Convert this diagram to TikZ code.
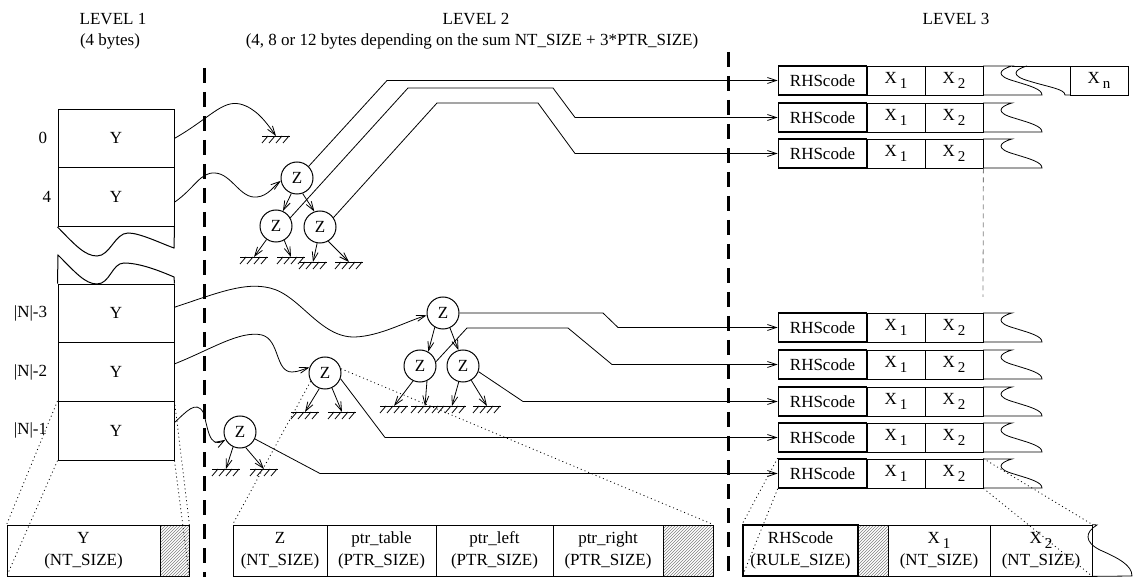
\documentclass[tikz,border=0pt]{standalone}
\usepackage{fontspec}
\setmainfont{Liberation Serif}
\usetikzlibrary{arrows.meta,patterns,positioning}

\newcommand{\xsub}[1]{X\hspace{3pt}\raisebox{-5pt}{\fontsize{15}{15}\selectfont #1}}

\begin{document}
\begin{tikzpicture}[x=1pt, y=-1pt, line width=0.8pt,
  font=\fontsize{17}{22}\selectfont,
  cell/.style={draw, line width=1pt, minimum width=116pt, minimum height=58.7pt, inner sep=0pt},
  zbox/.style={draw, circle, line width=1pt, minimum size=32pt, inner sep=0pt},
  rhs/.style={draw, line width=1.7pt, minimum width=88pt, minimum height=29pt, inner sep=0pt},
  xcell/.style={draw, line width=0.8pt, minimum width=58pt, minimum height=29pt, inner sep=0pt},
  field/.style={draw, line width=0.8pt, minimum height=51pt, inner sep=2pt, align=center},
  pad/.style={draw, line width=0.8pt, pattern=north east lines, pattern color=gray, minimum height=51pt, inner sep=0pt},
  ptr/.style={-{Straight Barb[length=9pt, width=6pt]}, line width=0.8pt},
  zoomline/.style={line width=0.8pt, dash pattern=on 1pt off 3pt},
  divider/.style={line width=3pt, dash pattern=on 15pt off 9pt},
  ground/.pic={
    \draw (-14,0) -- (14,0);
    \foreach \h in {-8,-1,6,13} \draw (\h,0) -- ++(-6,7);
  }]
  \useasboundingbox (0,0) rectangle (1136,577);

  \node (lev1) at (113,19) {LEVEL 1};
  \node (lev1b) at (110,41) {(4 bytes)};
  \node (lev2) at (476,19) {LEVEL 2};
  \node (lev2b) at (472,41) {(4, 8 or 12 bytes depending on the sum NT\_SIZE + 3*PTR\_SIZE)};
  \node (lev3) at (956,19) {LEVEL 3};

  \draw[divider] (204,68) -- (204,577);
  \draw[divider] (728,52) -- (728,577);

  \node[cell] (Y0) at (116,138.4) {Y};
  \node[cell] (Y4) at (116,197.1) {Y};
  \draw[line width=1pt] (Y4.south east) -- (174,248) .. controls (160,243) and (140,233) .. (128,233)
    .. controls (115,233) and (110,256) .. (97,256) .. controls (85,256) and (75,245) .. (Y4.south west);
  \node[cell] (N3) at (116,313.4) {Y};
  \node[cell] (N2) at (116,372.1) {Y};
  \node[cell] (N1) at (116,430.8) {Y};
  \draw[line width=1pt] (N3.north west) -- (58,255) .. controls (75,272) and (85,284) .. (97,284)
    .. controls (110,284) and (112,263) .. (124,263) .. controls (140,263) and (160,271) .. (174,277) -- (N3.north east);
  \node[left=10pt of Y0, inner sep=0pt] (l0) {0};
  \node[left=6pt of Y4, inner sep=0pt] (l4) {4};
  \node[left=10pt of N3, inner sep=0pt] (l3) {|N|-3};
  \node[left=10pt of N2, inner sep=0pt] (l2) {|N|-2};
  \node[left=10pt of N1, inner sep=0pt] (l1) {|N|-1};

  \node[zbox] (zt) at (297,178) {Z};
  \node[zbox] (ztl) at (276,226) {Z};
  \node[zbox] (ztr) at (320,227) {Z};
  \node[zbox] (zl) at (443,313) {Z};
  \node[zbox] (zll) at (420,366) {Z};
  \node[zbox] (zlr) at (463,366) {Z};
  \node[zbox] (zm) at (325,373) {Z};
  \node[zbox] (zb) at (240,432) {Z};

  \coordinate (g0) at (276,136);
  \coordinate (gtl1) at (254,257);
  \coordinate (gtl2) at (291,257);
  \coordinate (gtr1) at (313,262);
  \coordinate (gtr2) at (349,262);
  \coordinate (gll1) at (394,406);
  \coordinate (gll2) at (425,406);
  \coordinate (glr1) at (452,406);
  \coordinate (glr2) at (487,406);
  \coordinate (gm1) at (305,412);
  \coordinate (gm2) at (342,412);
  \coordinate (gb1) at (226,469);
  \coordinate (gb2) at (264,469);
  \foreach \g in {g0,gtl1,gtl2,gtr1,gtr2,gll1,gll2,glr1,glr2,gm1,gm2,gb1,gb2}
    \pic at (\g) {ground};

  \draw[ptr] (zt.250) -- (ztl.65);
  \draw[ptr] (zt.290) -- (ztr.110);
  \draw[ptr] (zl.240) -- (zll.60);
  \draw[ptr] (zl.295) -- (zlr.106);
  \draw[ptr] (ztl.235) -- (gtl1);
  \draw[ptr] (ztl.300) -- (gtl2);
  \draw[ptr] (ztr.260) -- (gtr1);
  \draw[ptr] (ztr.300) -- (gtr2);
  \draw[ptr] (zll.245) -- (gll1);
  \draw[ptr] (zll.295) -- (gll2);
  \draw[ptr] (zlr.255) -- (glr1);
  \draw[ptr] (zlr.300) -- (glr2);
  \draw[ptr] (zm.250) -- (gm1);
  \draw[ptr] (zm.295) -- (gm2);
  \draw[ptr] (zb.245) -- (gb1);
  \draw[ptr] (zb.290) -- (gb2);

  \draw[ptr] (Y0.east) .. controls (210,118) and (222,100) .. (240,104) .. controls (256,108) and (266,122) .. (g0);
  \draw[ptr] (Y4.-5) .. controls (195,188) and (200,172) .. (215,173) .. controls (232,174) and (240,199) .. (257,197)
    .. controls (268,196) and (274,186) .. (zt.190);
  \draw[ptr] (N3.6) .. controls (220,292) and (245,282) .. (270,288) .. controls (300,295) and (320,338) .. (355,337)
    .. controls (380,336) and (405,322) .. (zl.188);
  \draw[ptr] (N2.8) .. controls (210,350) and (240,330) .. (262,335) .. controls (280,340) and (275,372) .. (292,372)
    .. controls (298,372) and (304,369) .. (zm.160);
  \draw[ptr] (N1.8) .. controls (186,412) and (196,400) .. (203,412) .. controls (208,425) and (208,450) .. (zb.208);

  \foreach \i/\t in {1/66, 2/103, 3/139, 4/313, 5/350, 6/387, 7/423, 8/459} {
    \node[rhs] (r\i) at (822.5,\t+14.5) {RHScode};
    \node[xcell] (a\i) at (896,\t+14.5) {\xsub{1}};
    \node[xcell] (b\i) at (954,\t+14.5) {\xsub{2}};
    \draw (983,\t) -- (1012,\t) .. controls (998,\t+4) and (996,\t+10) .. (1014,\t+15)
      .. controls (1030,\t+20) and (1042,\t+23) .. (1042,\t+29) -- (983,\t+29);
  }
  \draw (1012,66) -- (1070,66);
  \draw (1027,66) .. controls (1013,70) and (1011,76) .. (1029,81) .. controls (1048,87) and (1065,89) .. (1065,95) -- (1070,95);
  \node[xcell] (xn) at (1099,80.5) {\xsub{n}};
  \draw[gray, line width=0.8pt, dash pattern=on 5pt off 4pt] (b3.south east) -- (983,297);

  \draw[ptr] (zt.45) -- (387,80.5) -- (r1.west);
  \draw[ptr] (ztl.30) -- (408,88) -- (553,88) -- (575,117.5) -- (r2.west);
  \draw[ptr] (ztr.35) -- (437,103) -- (538,103) -- (575,153.5) -- (r3.west);
  \draw[ptr] (zl.0) -- (603,313) -- (618,327.5) -- (r4.west);
  \draw[ptr] (zll.15) -- (467,328) -- (568,328) -- (612,364.5) -- (r5.west);
  \draw[ptr] (zlr.-20) -- (523,401.5) -- (r6.west);
  \draw[ptr] (zm.-20) -- (385,437.5) -- (r7.west);
  \draw[ptr] (zb.-25) -- (320,473.5) -- (r8.west);

  \node[field, minimum width=153pt] (bY) at (83.5,550.5) {Y\\(NT\_SIZE)};
  \node[pad, minimum width=29pt] (bYp) at (174.5,550.5) {};
  \node[field, minimum width=94pt] (bZ) at (280,550.5) {Z\\(NT\_SIZE)};
  \node[field, minimum width=109pt] (bT) at (381.5,550.5) {ptr\_table\\(PTR\_SIZE)};
  \node[field, minimum width=117pt] (bL) at (494.5,550.5) {ptr\_left\\(PTR\_SIZE)};
  \node[field, minimum width=110pt] (bRt) at (608,550.5) {ptr\_right\\(PTR\_SIZE)};
  \node[pad, minimum width=50pt] (bZp) at (688,550.5) {};
  \node[field, line width=1.7pt, minimum width=115pt] (bR) at (800.5,550.5) {RHScode\\(RULE\_SIZE)};
  \node[pad, minimum width=30pt] (bRp) at (873,550.5) {};
  \node[field, minimum width=102pt] (bX1) at (939,550.5) {\xsub{1}\\(NT\_SIZE)};
  \node[field, minimum width=102pt] (bX2) at (1041,550.5) {\xsub{2}\\(NT\_SIZE)};
  \draw (bX2.north east) -- (1097,525) .. controls (1085,532) and (1084,542) .. (1100,550)
    .. controls (1118,558) and (1132,565) .. (1132,576) -- (bX2.south east);

  \draw[zoomline] (N1.north west) -- (bY.north west);
  \draw[zoomline] (N1.south west) -- (bY.south west);
  \draw[zoomline] (N1.north east) -- (bYp.north east);
  \draw[zoomline] (N1.south east) -- (bYp.south east);
  \draw[zoomline] (zm.210) -- (bZ.north west);
  \draw[zoomline] (zm.15) -- (bZp.north east);
  \draw[zoomline] (r8.north west) -- (bR.north west);
  \draw[zoomline] (r8.south west) -- (bR.south west);
  \draw[zoomline] (b8.north east) -- (bX2.north east);
  \draw[zoomline] (b8.south east) -- (bX2.south east);
\end{tikzpicture}
\end{document}
